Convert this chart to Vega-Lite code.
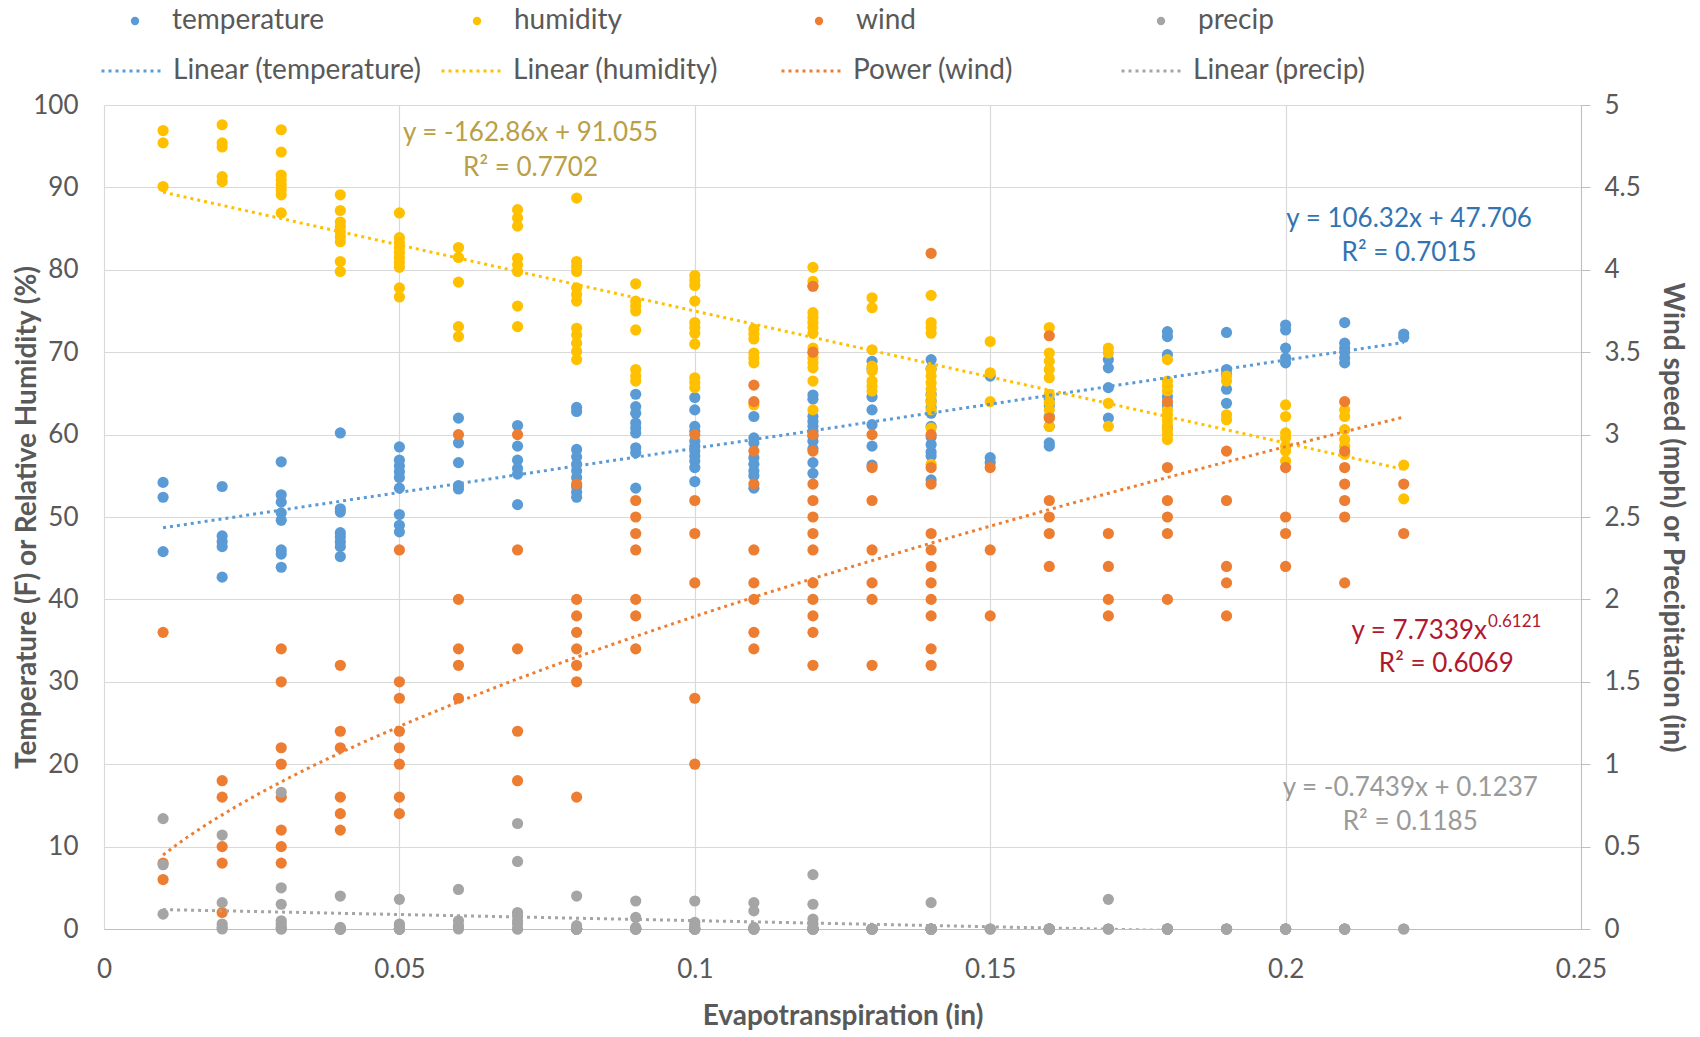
{
"$schema":"https://vega.github.io/schema/vega-lite/v6.json",
"width":1477,"height":824,
"autosize":{"type":"none"},
"padding":{"left":104,"top":105,"right":119,"bottom":108},
"background":"white",
"config":{
 "font":"Lato",
 "view":{"stroke":null},
 "axis":{"labelFont":"Lato","labelFontSize":26,"labelColor":"#595959","titleFont":"Lato","titleFontSize":28,"titleColor":"#595959","titleFontWeight":"bold","gridColor":"#D9D9D9","gridWidth":1.2,"domainColor":"#BFBFBF","tickColor":"#BFBFBF","labelOverlap":false},
 "legend":{"labelFont":"Lato","labelFontSize":28,"labelColor":"#595959","labelLimit":400,"padding":0}
},
"datasets":{
"pts":[
{"et":0.01,"series":"temperature","value":54.2},{"et":0.01,"series":"temperature","value":52.4},{"et":0.01,"series":"temperature","value":45.8},
{"et":0.02,"series":"temperature","value":53.7},{"et":0.02,"series":"temperature","value":47.7},{"et":0.02,"series":"temperature","value":47.0},{"et":0.02,"series":"temperature","value":46.4},{"et":0.02,"series":"temperature","value":42.7},
{"et":0.03,"series":"temperature","value":56.7},{"et":0.03,"series":"temperature","value":52.7},{"et":0.03,"series":"temperature","value":51.8},{"et":0.03,"series":"temperature","value":50.5},{"et":0.03,"series":"temperature","value":49.6},{"et":0.03,"series":"temperature","value":46.0},{"et":0.03,"series":"temperature","value":45.5},{"et":0.03,"series":"temperature","value":43.9},
{"et":0.04,"series":"temperature","value":60.2},{"et":0.04,"series":"temperature","value":51.0},{"et":0.04,"series":"temperature","value":50.6},{"et":0.04,"series":"temperature","value":48.1},{"et":0.04,"series":"temperature","value":47.6},{"et":0.04,"series":"temperature","value":47.0},{"et":0.04,"series":"temperature","value":46.4},{"et":0.04,"series":"temperature","value":45.2},
{"et":0.05,"series":"temperature","value":58.5},{"et":0.05,"series":"temperature","value":56.9},{"et":0.05,"series":"temperature","value":56.2},{"et":0.05,"series":"temperature","value":55.5},{"et":0.05,"series":"temperature","value":54.8},{"et":0.05,"series":"temperature","value":53.5},{"et":0.05,"series":"temperature","value":50.3},{"et":0.05,"series":"temperature","value":49.0},{"et":0.05,"series":"temperature","value":48.2},
{"et":0.06,"series":"temperature","value":62.0},{"et":0.06,"series":"temperature","value":59.0},{"et":0.06,"series":"temperature","value":56.6},{"et":0.06,"series":"temperature","value":53.8},{"et":0.06,"series":"temperature","value":53.4},
{"et":0.07,"series":"temperature","value":61.1},{"et":0.07,"series":"temperature","value":58.6},{"et":0.07,"series":"temperature","value":56.9},{"et":0.07,"series":"temperature","value":55.9},{"et":0.07,"series":"temperature","value":55.2},{"et":0.07,"series":"temperature","value":51.5},
{"et":0.08,"series":"temperature","value":63.3},{"et":0.08,"series":"temperature","value":62.8},{"et":0.08,"series":"temperature","value":58.2},{"et":0.08,"series":"temperature","value":57.3},{"et":0.08,"series":"temperature","value":56.4},{"et":0.08,"series":"temperature","value":55.6},{"et":0.08,"series":"temperature","value":54.8},{"et":0.08,"series":"temperature","value":53.7},{"et":0.08,"series":"temperature","value":53.0},{"et":0.08,"series":"temperature","value":52.4},
{"et":0.09,"series":"temperature","value":64.9},{"et":0.09,"series":"temperature","value":63.4},{"et":0.09,"series":"temperature","value":62.6},{"et":0.09,"series":"temperature","value":61.4},{"et":0.09,"series":"temperature","value":60.8},{"et":0.09,"series":"temperature","value":60.2},{"et":0.09,"series":"temperature","value":58.4},{"et":0.09,"series":"temperature","value":57.8},{"et":0.09,"series":"temperature","value":53.5},
{"et":0.1,"series":"temperature","value":64.5},{"et":0.1,"series":"temperature","value":63.0},{"et":0.1,"series":"temperature","value":61.0},{"et":0.1,"series":"temperature","value":60.4},{"et":0.1,"series":"temperature","value":59.2},{"et":0.1,"series":"temperature","value":58.6},{"et":0.1,"series":"temperature","value":58.0},{"et":0.1,"series":"temperature","value":57.4},{"et":0.1,"series":"temperature","value":56.8},{"et":0.1,"series":"temperature","value":56.0},{"et":0.1,"series":"temperature","value":54.3},
{"et":0.11,"series":"temperature","value":62.2},{"et":0.11,"series":"temperature","value":59.6},{"et":0.11,"series":"temperature","value":59.0},{"et":0.11,"series":"temperature","value":57.2},{"et":0.11,"series":"temperature","value":56.4},{"et":0.11,"series":"temperature","value":55.6},{"et":0.11,"series":"temperature","value":55.0},{"et":0.11,"series":"temperature","value":53.5},
{"et":0.12,"series":"temperature","value":64.8},{"et":0.12,"series":"temperature","value":64.3},{"et":0.12,"series":"temperature","value":62.2},{"et":0.12,"series":"temperature","value":61.6},{"et":0.12,"series":"temperature","value":61.0},{"et":0.12,"series":"temperature","value":60.4},{"et":0.12,"series":"temperature","value":59.8},{"et":0.12,"series":"temperature","value":59.2},{"et":0.12,"series":"temperature","value":58.3},{"et":0.12,"series":"temperature","value":56.6},{"et":0.12,"series":"temperature","value":55.3},
{"et":0.13,"series":"temperature","value":68.9},{"et":0.13,"series":"temperature","value":68.0},{"et":0.13,"series":"temperature","value":64.6},{"et":0.13,"series":"temperature","value":63.0},{"et":0.13,"series":"temperature","value":61.2},{"et":0.13,"series":"temperature","value":58.6},{"et":0.13,"series":"temperature","value":56.3},
{"et":0.14,"series":"temperature","value":69.1},{"et":0.14,"series":"temperature","value":68.0},{"et":0.14,"series":"temperature","value":64.9},{"et":0.14,"series":"temperature","value":64.1},{"et":0.14,"series":"temperature","value":63.3},{"et":0.14,"series":"temperature","value":62.6},{"et":0.14,"series":"temperature","value":61.0},{"et":0.14,"series":"temperature","value":59.7},{"et":0.14,"series":"temperature","value":58.8},{"et":0.14,"series":"temperature","value":57.9},{"et":0.14,"series":"temperature","value":57.4},{"et":0.14,"series":"temperature","value":54.5},
{"et":0.15,"series":"temperature","value":67.1},{"et":0.15,"series":"temperature","value":57.2},{"et":0.15,"series":"temperature","value":56.6},
{"et":0.16,"series":"temperature","value":64.3},{"et":0.16,"series":"temperature","value":63.5},{"et":0.16,"series":"temperature","value":62.2},{"et":0.16,"series":"temperature","value":61.0},{"et":0.16,"series":"temperature","value":59.0},{"et":0.16,"series":"temperature","value":58.6},
{"et":0.17,"series":"temperature","value":69.1},{"et":0.17,"series":"temperature","value":68.1},{"et":0.17,"series":"temperature","value":65.7},{"et":0.17,"series":"temperature","value":62.0},
{"et":0.18,"series":"temperature","value":72.5},{"et":0.18,"series":"temperature","value":71.9},{"et":0.18,"series":"temperature","value":69.7},{"et":0.18,"series":"temperature","value":64.6},{"et":0.18,"series":"temperature","value":63.5},{"et":0.18,"series":"temperature","value":60.8},
{"et":0.19,"series":"temperature","value":72.4},{"et":0.19,"series":"temperature","value":67.9},{"et":0.19,"series":"temperature","value":67.3},{"et":0.19,"series":"temperature","value":65.5},{"et":0.19,"series":"temperature","value":63.8},
{"et":0.2,"series":"temperature","value":73.3},{"et":0.2,"series":"temperature","value":72.7},{"et":0.2,"series":"temperature","value":70.5},{"et":0.2,"series":"temperature","value":69.3},{"et":0.2,"series":"temperature","value":68.7},
{"et":0.21,"series":"temperature","value":73.6},{"et":0.21,"series":"temperature","value":71.1},{"et":0.21,"series":"temperature","value":70.5},{"et":0.21,"series":"temperature","value":70.0},{"et":0.21,"series":"temperature","value":69.3},{"et":0.21,"series":"temperature","value":68.7},
{"et":0.22,"series":"temperature","value":72.2},{"et":0.22,"series":"temperature","value":71.8},
{"et":0.01,"series":"humidity","value":96.9},{"et":0.01,"series":"humidity","value":95.4},{"et":0.01,"series":"humidity","value":90.1},
{"et":0.02,"series":"humidity","value":97.6},{"et":0.02,"series":"humidity","value":95.4},{"et":0.02,"series":"humidity","value":94.9},{"et":0.02,"series":"humidity","value":91.3},{"et":0.02,"series":"humidity","value":90.7},
{"et":0.03,"series":"humidity","value":97.0},{"et":0.03,"series":"humidity","value":94.3},{"et":0.03,"series":"humidity","value":91.5},{"et":0.03,"series":"humidity","value":90.9},{"et":0.03,"series":"humidity","value":90.3},{"et":0.03,"series":"humidity","value":89.7},{"et":0.03,"series":"humidity","value":89.1},{"et":0.03,"series":"humidity","value":86.9},
{"et":0.04,"series":"humidity","value":89.1},{"et":0.04,"series":"humidity","value":87.2},{"et":0.04,"series":"humidity","value":85.8},{"et":0.04,"series":"humidity","value":85.2},{"et":0.04,"series":"humidity","value":84.6},{"et":0.04,"series":"humidity","value":84.0},{"et":0.04,"series":"humidity","value":83.4},{"et":0.04,"series":"humidity","value":81.0},{"et":0.04,"series":"humidity","value":79.8},
{"et":0.05,"series":"humidity","value":86.9},{"et":0.05,"series":"humidity","value":83.9},{"et":0.05,"series":"humidity","value":83.3},{"et":0.05,"series":"humidity","value":82.7},{"et":0.05,"series":"humidity","value":82.1},{"et":0.05,"series":"humidity","value":81.5},{"et":0.05,"series":"humidity","value":80.9},{"et":0.05,"series":"humidity","value":80.3},{"et":0.05,"series":"humidity","value":77.8},{"et":0.05,"series":"humidity","value":76.7},
{"et":0.06,"series":"humidity","value":82.7},{"et":0.06,"series":"humidity","value":81.5},{"et":0.06,"series":"humidity","value":78.5},{"et":0.06,"series":"humidity","value":73.1},{"et":0.06,"series":"humidity","value":71.9},
{"et":0.07,"series":"humidity","value":87.3},{"et":0.07,"series":"humidity","value":86.3},{"et":0.07,"series":"humidity","value":85.3},{"et":0.07,"series":"humidity","value":81.4},{"et":0.07,"series":"humidity","value":80.6},{"et":0.07,"series":"humidity","value":79.8},{"et":0.07,"series":"humidity","value":75.6},{"et":0.07,"series":"humidity","value":73.1},
{"et":0.08,"series":"humidity","value":88.7},{"et":0.08,"series":"humidity","value":81.0},{"et":0.08,"series":"humidity","value":80.4},{"et":0.08,"series":"humidity","value":79.8},{"et":0.08,"series":"humidity","value":77.8},{"et":0.08,"series":"humidity","value":77.0},{"et":0.08,"series":"humidity","value":76.2},{"et":0.08,"series":"humidity","value":72.9},{"et":0.08,"series":"humidity","value":72.1},{"et":0.08,"series":"humidity","value":71.1},{"et":0.08,"series":"humidity","value":70.1},{"et":0.08,"series":"humidity","value":69.1},
{"et":0.09,"series":"humidity","value":78.3},{"et":0.09,"series":"humidity","value":76.2},{"et":0.09,"series":"humidity","value":75.6},{"et":0.09,"series":"humidity","value":75.0},{"et":0.09,"series":"humidity","value":72.7},{"et":0.09,"series":"humidity","value":67.9},{"et":0.09,"series":"humidity","value":67.1},{"et":0.09,"series":"humidity","value":66.5},
{"et":0.1,"series":"humidity","value":79.3},{"et":0.1,"series":"humidity","value":78.7},{"et":0.1,"series":"humidity","value":78.1},{"et":0.1,"series":"humidity","value":76.2},{"et":0.1,"series":"humidity","value":73.6},{"et":0.1,"series":"humidity","value":73.0},{"et":0.1,"series":"humidity","value":72.3},{"et":0.1,"series":"humidity","value":71.0},{"et":0.1,"series":"humidity","value":66.9},{"et":0.1,"series":"humidity","value":66.3},{"et":0.1,"series":"humidity","value":65.7},
{"et":0.11,"series":"humidity","value":72.8},{"et":0.11,"series":"humidity","value":72.2},{"et":0.11,"series":"humidity","value":71.6},{"et":0.11,"series":"humidity","value":69.9},{"et":0.11,"series":"humidity","value":69.3},{"et":0.11,"series":"humidity","value":68.7},{"et":0.11,"series":"humidity","value":63.6},
{"et":0.12,"series":"humidity","value":80.3},{"et":0.12,"series":"humidity","value":78.6},{"et":0.12,"series":"humidity","value":78.0},{"et":0.12,"series":"humidity","value":74.8},{"et":0.12,"series":"humidity","value":74.2},{"et":0.12,"series":"humidity","value":73.6},{"et":0.12,"series":"humidity","value":73.0},{"et":0.12,"series":"humidity","value":72.3},{"et":0.12,"series":"humidity","value":70.5},{"et":0.12,"series":"humidity","value":69.9},{"et":0.12,"series":"humidity","value":69.3},{"et":0.12,"series":"humidity","value":68.7},{"et":0.12,"series":"humidity","value":68.1},{"et":0.12,"series":"humidity","value":66.5},{"et":0.12,"series":"humidity","value":63.0},
{"et":0.13,"series":"humidity","value":76.6},{"et":0.13,"series":"humidity","value":75.4},{"et":0.13,"series":"humidity","value":70.3},{"et":0.13,"series":"humidity","value":68.3},{"et":0.13,"series":"humidity","value":67.7},{"et":0.13,"series":"humidity","value":66.5},{"et":0.13,"series":"humidity","value":65.9},{"et":0.13,"series":"humidity","value":65.3},
{"et":0.14,"series":"humidity","value":76.9},{"et":0.14,"series":"humidity","value":73.6},{"et":0.14,"series":"humidity","value":73.0},{"et":0.14,"series":"humidity","value":72.3},{"et":0.14,"series":"humidity","value":67.9},{"et":0.14,"series":"humidity","value":67.1},{"et":0.14,"series":"humidity","value":66.3},{"et":0.14,"series":"humidity","value":65.5},{"et":0.14,"series":"humidity","value":64.7},{"et":0.14,"series":"humidity","value":63.9},{"et":0.14,"series":"humidity","value":63.0},{"et":0.14,"series":"humidity","value":60.8},{"et":0.14,"series":"humidity","value":56.4},
{"et":0.15,"series":"humidity","value":71.3},{"et":0.15,"series":"humidity","value":67.5},{"et":0.15,"series":"humidity","value":64.0},
{"et":0.16,"series":"humidity","value":73.0},{"et":0.16,"series":"humidity","value":69.9},{"et":0.16,"series":"humidity","value":68.9},{"et":0.16,"series":"humidity","value":67.9},{"et":0.16,"series":"humidity","value":66.9},{"et":0.16,"series":"humidity","value":64.9},{"et":0.16,"series":"humidity","value":63.9},{"et":0.16,"series":"humidity","value":63.0},{"et":0.16,"series":"humidity","value":62.0},{"et":0.16,"series":"humidity","value":61.0},
{"et":0.17,"series":"humidity","value":70.5},{"et":0.17,"series":"humidity","value":69.9},{"et":0.17,"series":"humidity","value":63.8},{"et":0.17,"series":"humidity","value":61.0},
{"et":0.18,"series":"humidity","value":69.1},{"et":0.18,"series":"humidity","value":66.5},{"et":0.18,"series":"humidity","value":65.9},{"et":0.18,"series":"humidity","value":65.3},{"et":0.18,"series":"humidity","value":63.0},{"et":0.18,"series":"humidity","value":62.4},{"et":0.18,"series":"humidity","value":61.8},{"et":0.18,"series":"humidity","value":61.2},{"et":0.18,"series":"humidity","value":60.6},{"et":0.18,"series":"humidity","value":60.0},{"et":0.18,"series":"humidity","value":59.4},
{"et":0.19,"series":"humidity","value":67.1},{"et":0.19,"series":"humidity","value":66.5},{"et":0.19,"series":"humidity","value":62.4},{"et":0.19,"series":"humidity","value":61.8},
{"et":0.2,"series":"humidity","value":63.6},{"et":0.2,"series":"humidity","value":62.2},{"et":0.2,"series":"humidity","value":60.2},{"et":0.2,"series":"humidity","value":59.6},{"et":0.2,"series":"humidity","value":58.6},{"et":0.2,"series":"humidity","value":58.0},{"et":0.2,"series":"humidity","value":56.8},
{"et":0.21,"series":"humidity","value":63.0},{"et":0.21,"series":"humidity","value":62.2},{"et":0.21,"series":"humidity","value":60.6},{"et":0.21,"series":"humidity","value":59.4},{"et":0.21,"series":"humidity","value":58.6},{"et":0.21,"series":"humidity","value":57.6},
{"et":0.22,"series":"humidity","value":56.3},{"et":0.22,"series":"humidity","value":52.2},
{"et":0.01,"series":"wind","value":1.8},{"et":0.01,"series":"wind","value":0.4},{"et":0.01,"series":"wind","value":0.3},
{"et":0.02,"series":"wind","value":0.9},{"et":0.02,"series":"wind","value":0.8},{"et":0.02,"series":"wind","value":0.5},{"et":0.02,"series":"wind","value":0.4},{"et":0.02,"series":"wind","value":0.1},
{"et":0.03,"series":"wind","value":1.7},{"et":0.03,"series":"wind","value":1.5},{"et":0.03,"series":"wind","value":1.1},{"et":0.03,"series":"wind","value":1.0},{"et":0.03,"series":"wind","value":0.8},{"et":0.03,"series":"wind","value":0.6},{"et":0.03,"series":"wind","value":0.5},{"et":0.03,"series":"wind","value":0.4},
{"et":0.04,"series":"wind","value":1.6},{"et":0.04,"series":"wind","value":1.2},{"et":0.04,"series":"wind","value":1.1},{"et":0.04,"series":"wind","value":0.8},{"et":0.04,"series":"wind","value":0.7},{"et":0.04,"series":"wind","value":0.6},
{"et":0.05,"series":"wind","value":2.3},{"et":0.05,"series":"wind","value":1.5},{"et":0.05,"series":"wind","value":1.4},{"et":0.05,"series":"wind","value":1.2},{"et":0.05,"series":"wind","value":1.1},{"et":0.05,"series":"wind","value":1.0},{"et":0.05,"series":"wind","value":0.8},{"et":0.05,"series":"wind","value":0.7},
{"et":0.06,"series":"wind","value":3.0},{"et":0.06,"series":"wind","value":2.0},{"et":0.06,"series":"wind","value":1.7},{"et":0.06,"series":"wind","value":1.6},{"et":0.06,"series":"wind","value":1.4},
{"et":0.07,"series":"wind","value":3.0},{"et":0.07,"series":"wind","value":2.3},{"et":0.07,"series":"wind","value":1.7},{"et":0.07,"series":"wind","value":1.2},{"et":0.07,"series":"wind","value":0.9},
{"et":0.08,"series":"wind","value":2.7},{"et":0.08,"series":"wind","value":2.0},{"et":0.08,"series":"wind","value":1.9},{"et":0.08,"series":"wind","value":1.8},{"et":0.08,"series":"wind","value":1.7},{"et":0.08,"series":"wind","value":1.6},{"et":0.08,"series":"wind","value":1.5},{"et":0.08,"series":"wind","value":0.8},
{"et":0.09,"series":"wind","value":2.6},{"et":0.09,"series":"wind","value":2.5},{"et":0.09,"series":"wind","value":2.4},{"et":0.09,"series":"wind","value":2.3},{"et":0.09,"series":"wind","value":2.0},{"et":0.09,"series":"wind","value":1.9},{"et":0.09,"series":"wind","value":1.7},
{"et":0.1,"series":"wind","value":3.0},{"et":0.1,"series":"wind","value":2.6},{"et":0.1,"series":"wind","value":2.4},{"et":0.1,"series":"wind","value":2.1},{"et":0.1,"series":"wind","value":1.4},{"et":0.1,"series":"wind","value":1.0},
{"et":0.11,"series":"wind","value":3.3},{"et":0.11,"series":"wind","value":3.2},{"et":0.11,"series":"wind","value":2.9},{"et":0.11,"series":"wind","value":2.7},{"et":0.11,"series":"wind","value":2.3},{"et":0.11,"series":"wind","value":2.1},{"et":0.11,"series":"wind","value":2.0},{"et":0.11,"series":"wind","value":1.8},{"et":0.11,"series":"wind","value":1.7},
{"et":0.12,"series":"wind","value":3.9},{"et":0.12,"series":"wind","value":3.5},{"et":0.12,"series":"wind","value":3.0},{"et":0.12,"series":"wind","value":2.9},{"et":0.12,"series":"wind","value":2.7},{"et":0.12,"series":"wind","value":2.6},{"et":0.12,"series":"wind","value":2.5},{"et":0.12,"series":"wind","value":2.4},{"et":0.12,"series":"wind","value":2.3},{"et":0.12,"series":"wind","value":2.1},{"et":0.12,"series":"wind","value":2.0},{"et":0.12,"series":"wind","value":1.9},{"et":0.12,"series":"wind","value":1.8},{"et":0.12,"series":"wind","value":1.6},
{"et":0.13,"series":"wind","value":3.0},{"et":0.13,"series":"wind","value":2.8},{"et":0.13,"series":"wind","value":2.6},{"et":0.13,"series":"wind","value":2.3},{"et":0.13,"series":"wind","value":2.1},{"et":0.13,"series":"wind","value":2.0},{"et":0.13,"series":"wind","value":1.6},
{"et":0.14,"series":"wind","value":4.1},{"et":0.14,"series":"wind","value":3.0},{"et":0.14,"series":"wind","value":2.8},{"et":0.14,"series":"wind","value":2.7},{"et":0.14,"series":"wind","value":2.4},{"et":0.14,"series":"wind","value":2.3},{"et":0.14,"series":"wind","value":2.2},{"et":0.14,"series":"wind","value":2.1},{"et":0.14,"series":"wind","value":2.0},{"et":0.14,"series":"wind","value":1.9},{"et":0.14,"series":"wind","value":1.7},{"et":0.14,"series":"wind","value":1.6},
{"et":0.15,"series":"wind","value":2.8},{"et":0.15,"series":"wind","value":2.3},{"et":0.15,"series":"wind","value":1.9},
{"et":0.16,"series":"wind","value":3.6},{"et":0.16,"series":"wind","value":3.1},{"et":0.16,"series":"wind","value":2.6},{"et":0.16,"series":"wind","value":2.5},{"et":0.16,"series":"wind","value":2.4},{"et":0.16,"series":"wind","value":2.2},
{"et":0.17,"series":"wind","value":2.4},{"et":0.17,"series":"wind","value":2.2},{"et":0.17,"series":"wind","value":2.0},{"et":0.17,"series":"wind","value":1.9},
{"et":0.18,"series":"wind","value":3.2},{"et":0.18,"series":"wind","value":2.8},{"et":0.18,"series":"wind","value":2.6},{"et":0.18,"series":"wind","value":2.5},{"et":0.18,"series":"wind","value":2.4},{"et":0.18,"series":"wind","value":2.0},
{"et":0.19,"series":"wind","value":2.9},{"et":0.19,"series":"wind","value":2.6},{"et":0.19,"series":"wind","value":2.2},{"et":0.19,"series":"wind","value":2.1},{"et":0.19,"series":"wind","value":1.9},
{"et":0.2,"series":"wind","value":2.8},{"et":0.2,"series":"wind","value":2.5},{"et":0.2,"series":"wind","value":2.4},{"et":0.2,"series":"wind","value":2.2},
{"et":0.21,"series":"wind","value":3.2},{"et":0.21,"series":"wind","value":2.9},{"et":0.21,"series":"wind","value":2.8},{"et":0.21,"series":"wind","value":2.7},{"et":0.21,"series":"wind","value":2.6},{"et":0.21,"series":"wind","value":2.5},{"et":0.21,"series":"wind","value":2.1},
{"et":0.22,"series":"wind","value":2.7},{"et":0.22,"series":"wind","value":2.4},
{"et":0.01,"series":"precip","value":0.67},{"et":0.01,"series":"precip","value":0.39},{"et":0.01,"series":"precip","value":0.09},
{"et":0.02,"series":"precip","value":0.57},{"et":0.02,"series":"precip","value":0.16},{"et":0.02,"series":"precip","value":0.03},{"et":0.02,"series":"precip","value":0.01},{"et":0.02,"series":"precip","value":0},
{"et":0.03,"series":"precip","value":0.83},{"et":0.03,"series":"precip","value":0.25},{"et":0.03,"series":"precip","value":0.15},{"et":0.03,"series":"precip","value":0.05},{"et":0.03,"series":"precip","value":0.03},{"et":0.03,"series":"precip","value":0.01},{"et":0.03,"series":"precip","value":0},{"et":0.03,"series":"precip","value":0},
{"et":0.04,"series":"precip","value":0.2},{"et":0.04,"series":"precip","value":0.01},{"et":0.04,"series":"precip","value":0},{"et":0.04,"series":"precip","value":0},{"et":0.04,"series":"precip","value":0},{"et":0.04,"series":"precip","value":0},{"et":0.04,"series":"precip","value":0},{"et":0.04,"series":"precip","value":0},{"et":0.04,"series":"precip","value":0},
{"et":0.05,"series":"precip","value":0.18},{"et":0.05,"series":"precip","value":0.03},{"et":0.05,"series":"precip","value":0.02},{"et":0.05,"series":"precip","value":0},{"et":0.05,"series":"precip","value":0},{"et":0.05,"series":"precip","value":0},{"et":0.05,"series":"precip","value":0},{"et":0.05,"series":"precip","value":0},{"et":0.05,"series":"precip","value":0},{"et":0.05,"series":"precip","value":0},
{"et":0.06,"series":"precip","value":0.24},{"et":0.06,"series":"precip","value":0.05},{"et":0.06,"series":"precip","value":0.02},{"et":0.06,"series":"precip","value":0.01},{"et":0.06,"series":"precip","value":0},
{"et":0.07,"series":"precip","value":0.64},{"et":0.07,"series":"precip","value":0.41},{"et":0.07,"series":"precip","value":0.1},{"et":0.07,"series":"precip","value":0.08},{"et":0.07,"series":"precip","value":0.05},{"et":0.07,"series":"precip","value":0.03},{"et":0.07,"series":"precip","value":0},{"et":0.07,"series":"precip","value":0},
{"et":0.08,"series":"precip","value":0.2},{"et":0.08,"series":"precip","value":0.02},{"et":0.08,"series":"precip","value":0},{"et":0.08,"series":"precip","value":0},{"et":0.08,"series":"precip","value":0},{"et":0.08,"series":"precip","value":0},{"et":0.08,"series":"precip","value":0},{"et":0.08,"series":"precip","value":0},{"et":0.08,"series":"precip","value":0},{"et":0.08,"series":"precip","value":0},{"et":0.08,"series":"precip","value":0},{"et":0.08,"series":"precip","value":0},
{"et":0.09,"series":"precip","value":0.17},{"et":0.09,"series":"precip","value":0.07},{"et":0.09,"series":"precip","value":0.01},{"et":0.09,"series":"precip","value":0},{"et":0.09,"series":"precip","value":0},{"et":0.09,"series":"precip","value":0},{"et":0.09,"series":"precip","value":0},{"et":0.09,"series":"precip","value":0},{"et":0.09,"series":"precip","value":0},
{"et":0.1,"series":"precip","value":0.17},{"et":0.1,"series":"precip","value":0.04},{"et":0.1,"series":"precip","value":0.02},{"et":0.1,"series":"precip","value":0},{"et":0.1,"series":"precip","value":0},{"et":0.1,"series":"precip","value":0},{"et":0.1,"series":"precip","value":0},{"et":0.1,"series":"precip","value":0},{"et":0.1,"series":"precip","value":0},{"et":0.1,"series":"precip","value":0},{"et":0.1,"series":"precip","value":0},
{"et":0.11,"series":"precip","value":0.16},{"et":0.11,"series":"precip","value":0.11},{"et":0.11,"series":"precip","value":0.01},{"et":0.11,"series":"precip","value":0},{"et":0.11,"series":"precip","value":0},{"et":0.11,"series":"precip","value":0},{"et":0.11,"series":"precip","value":0},{"et":0.11,"series":"precip","value":0},
{"et":0.12,"series":"precip","value":0.33},{"et":0.12,"series":"precip","value":0.15},{"et":0.12,"series":"precip","value":0.06},{"et":0.12,"series":"precip","value":0.03},{"et":0.12,"series":"precip","value":0},{"et":0.12,"series":"precip","value":0},{"et":0.12,"series":"precip","value":0},{"et":0.12,"series":"precip","value":0},{"et":0.12,"series":"precip","value":0},{"et":0.12,"series":"precip","value":0},{"et":0.12,"series":"precip","value":0},{"et":0.12,"series":"precip","value":0},{"et":0.12,"series":"precip","value":0},{"et":0.12,"series":"precip","value":0},{"et":0.12,"series":"precip","value":0},
{"et":0.13,"series":"precip","value":0},{"et":0.13,"series":"precip","value":0},{"et":0.13,"series":"precip","value":0},{"et":0.13,"series":"precip","value":0},{"et":0.13,"series":"precip","value":0},{"et":0.13,"series":"precip","value":0},{"et":0.13,"series":"precip","value":0},{"et":0.13,"series":"precip","value":0},
{"et":0.14,"series":"precip","value":0.16},{"et":0.14,"series":"precip","value":0},{"et":0.14,"series":"precip","value":0},{"et":0.14,"series":"precip","value":0},{"et":0.14,"series":"precip","value":0},{"et":0.14,"series":"precip","value":0},{"et":0.14,"series":"precip","value":0},{"et":0.14,"series":"precip","value":0},{"et":0.14,"series":"precip","value":0},{"et":0.14,"series":"precip","value":0},{"et":0.14,"series":"precip","value":0},{"et":0.14,"series":"precip","value":0},{"et":0.14,"series":"precip","value":0},
{"et":0.15,"series":"precip","value":0},{"et":0.15,"series":"precip","value":0},{"et":0.15,"series":"precip","value":0},
{"et":0.16,"series":"precip","value":0},{"et":0.16,"series":"precip","value":0},{"et":0.16,"series":"precip","value":0},{"et":0.16,"series":"precip","value":0},{"et":0.16,"series":"precip","value":0},{"et":0.16,"series":"precip","value":0},{"et":0.16,"series":"precip","value":0},{"et":0.16,"series":"precip","value":0},{"et":0.16,"series":"precip","value":0},{"et":0.16,"series":"precip","value":0},
{"et":0.17,"series":"precip","value":0.18},{"et":0.17,"series":"precip","value":0},{"et":0.17,"series":"precip","value":0},{"et":0.17,"series":"precip","value":0},
{"et":0.18,"series":"precip","value":0},{"et":0.18,"series":"precip","value":0},{"et":0.18,"series":"precip","value":0},{"et":0.18,"series":"precip","value":0},{"et":0.18,"series":"precip","value":0},{"et":0.18,"series":"precip","value":0},{"et":0.18,"series":"precip","value":0},{"et":0.18,"series":"precip","value":0},{"et":0.18,"series":"precip","value":0},{"et":0.18,"series":"precip","value":0},{"et":0.18,"series":"precip","value":0},
{"et":0.19,"series":"precip","value":0},{"et":0.19,"series":"precip","value":0},{"et":0.19,"series":"precip","value":0},{"et":0.19,"series":"precip","value":0},{"et":0.19,"series":"precip","value":0},
{"et":0.2,"series":"precip","value":0},{"et":0.2,"series":"precip","value":0},{"et":0.2,"series":"precip","value":0},{"et":0.2,"series":"precip","value":0},{"et":0.2,"series":"precip","value":0},{"et":0.2,"series":"precip","value":0},{"et":0.2,"series":"precip","value":0},
{"et":0.21,"series":"precip","value":0},{"et":0.21,"series":"precip","value":0},{"et":0.21,"series":"precip","value":0},{"et":0.21,"series":"precip","value":0},{"et":0.21,"series":"precip","value":0},{"et":0.21,"series":"precip","value":0},
{"et":0.22,"series":"precip","value":0},{"et":0.22,"series":"precip","value":0}
],
"notes":[
{"series":"humidity","kind":"c","et":0.0722,"value":96.6,"text":"y = -162.86x + 91.055"},
{"series":"humidity","kind":"c","et":0.0722,"value":92.4,"text":"R² = 0.7702"},
{"series":"temperature","kind":"c","et":0.2209,"value":86.2,"text":"y = 106.32x + 47.706"},
{"series":"temperature","kind":"c","et":0.2209,"value":82.0,"text":"R² = 0.7015"},
{"series":"wind","kind":"r","et":0.2341,"value":36.2,"text":"y = 7.7339x"},
{"series":"wind","kind":"s","et":0.2341,"value":36.2,"text":"0.6121"},
{"series":"wind","kind":"c","et":0.2272,"value":32.2,"text":"R² = 0.6069"},
{"series":"precip","kind":"c","et":0.2211,"value":17.1,"text":"y = -0.7439x + 0.1237"},
{"series":"precip","kind":"c","et":0.2211,"value":13.0,"text":"R² = 0.1185"}
]
},
"layer":[
{
 "layer":[
  {
   "data":{"name":"pts"},
   "transform":[{"filter":"datum.series == 'temperature' || datum.series == 'humidity'"}],
   "mark":{"type":"circle","size":125,"opacity":1},
   "encoding":{
    "x":{"field":"et","type":"quantitative","scale":{"domain":[0,0.25],"nice":false},
         "axis":{"title":"Evapotranspiration (in)","values":[0,0.05,0.1,0.15,0.2,0.25],"format":"~g","grid":true,"ticks":false,"domain":true,"labelFlush":false,"labelPadding":27,"titlePadding":20}},
    "y":{"field":"value","type":"quantitative","scale":{"domain":[0,100],"nice":false},
         "axis":{"title":"Temperature (F) or Relative Humidity (%)","values":[0,10,20,30,40,50,60,70,80,90,100],"grid":true,"ticks":false,"domain":false,"labelPadding":26,"titlePadding":-9}},
    "color":{"field":"series","type":"nominal",
      "scale":{"domain":["temperature","humidity","wind","precip"],"range":["#5B9BD5","#FFC000","#ED7D31","#A5A5A5"]},
      "legend":{"title":null,"orient":"none","legendX":17,"legendY":-98,"direction":"horizontal","columns":4,"gridAlign":"all","symbolType":"circle","symbolSize":70,"labelOffset":23,"columnPadding":138}}
   }
  },
  {
   "data":{"name":"pts"},
   "transform":[{"filter":"datum.series == 'temperature' || datum.series == 'humidity'"},{"regression":"value","on":"et","groupby":["series"],"method":"linear"}],
   "mark":{"type":"line","strokeDash":[3,4],"strokeWidth":3,"clip":true},
   "encoding":{
    "x":{"field":"et","type":"quantitative"},
    "y":{"field":"value","type":"quantitative"},
    "stroke":{"field":"series","type":"nominal",
      "scale":{"domain":["precip","wind","humidity","temperature"],"range":["#A5A5A5","#ED7D31","#FFC000","#5B9BD5"]},
      "legend":{"title":null,"values":["temperature","humidity","wind","precip"],"orient":"none","legendX":-4,"legendY":-67,"direction":"horizontal","columns":4,"gridAlign":"all","symbolType":"stroke","symbolSize":3969,"symbolStrokeWidth":3,"symbolDash":[3,4],"labelOffset":7,"columnPadding":13,
        "labelExpr":"datum.label == 'wind' ? 'Power (wind)' : 'Linear (' + datum.label + ')'"}}
   }
  },
  {
   "data":{"name":"notes"},
   "transform":[{"filter":"datum.kind == 'c'"}],
   "mark":{"type":"text","fontSize":26,"align":"center","baseline":"middle","font":"Lato"},
   "encoding":{
    "x":{"field":"et","type":"quantitative"},
    "y":{"field":"value","type":"quantitative"},
    "text":{"field":"text"},
    "fill":{"field":"series","type":"nominal","scale":{"domain":["temperature","humidity","wind","precip"],"range":["#3274B1","#B9A046","#B0182E","#9A9A9A"]},"legend":null}
   }
  },
  {
   "data":{"name":"notes"},
   "transform":[{"filter":"datum.kind == 'r'"}],
   "mark":{"type":"text","fontSize":26,"align":"right","baseline":"middle","font":"Lato"},
   "encoding":{
    "x":{"field":"et","type":"quantitative"},
    "y":{"field":"value","type":"quantitative"},
    "text":{"field":"text"},
    "fill":{"field":"series","type":"nominal","legend":null}
   }
  },
  {
   "data":{"name":"notes"},
   "transform":[{"filter":"datum.kind == 's'"}],
   "mark":{"type":"text","fontSize":17,"align":"left","baseline":"middle","dy":-9,"dx":1,"font":"Lato"},
   "encoding":{
    "x":{"field":"et","type":"quantitative"},
    "y":{"field":"value","type":"quantitative"},
    "text":{"field":"text"},
    "fill":{"field":"series","type":"nominal","legend":null}
   }
  }
 ]
},
{
 "layer":[
  {
   "data":{"name":"pts"},
   "transform":[{"filter":"datum.series == 'wind' || datum.series == 'precip'"}],
   "mark":{"type":"circle","size":125,"opacity":1},
   "encoding":{
    "x":{"field":"et","type":"quantitative"},
    "y":{"field":"value","type":"quantitative","scale":{"domain":[0,5],"nice":false},
         "axis":{"orient":"right","title":"Wind speed (mph) or Precipitation (in)","values":[0,0.5,1,1.5,2,2.5,3,3.5,4,4.5,5],"format":"~g","grid":false,"ticks":true,"tickSize":9,"domain":true,"labelPadding":14,"titlePadding":17}},
    "color":{"field":"series","type":"nominal"}
   }
  },
  {
   "data":{"name":"pts"},
   "transform":[{"filter":"datum.series == 'wind'"},{"regression":"value","on":"et","groupby":["series"],"method":"pow"}],
   "mark":{"type":"line","strokeDash":[3,4],"strokeWidth":3,"clip":true},
   "encoding":{
    "x":{"field":"et","type":"quantitative"},
    "y":{"field":"value","type":"quantitative"},
    "stroke":{"field":"series","type":"nominal"}
   }
  },
  {
   "data":{"name":"pts"},
   "transform":[{"filter":"datum.series == 'precip'"},{"regression":"value","on":"et","groupby":["series"],"method":"linear"}],
   "mark":{"type":"line","strokeDash":[3,4],"strokeWidth":3,"clip":true},
   "encoding":{
    "x":{"field":"et","type":"quantitative"},
    "y":{"field":"value","type":"quantitative"},
    "stroke":{"field":"series","type":"nominal"}
   }
  }
 ]
}
],
"resolve":{"scale":{"y":"independent"},"axis":{"y":"independent"}}
}
